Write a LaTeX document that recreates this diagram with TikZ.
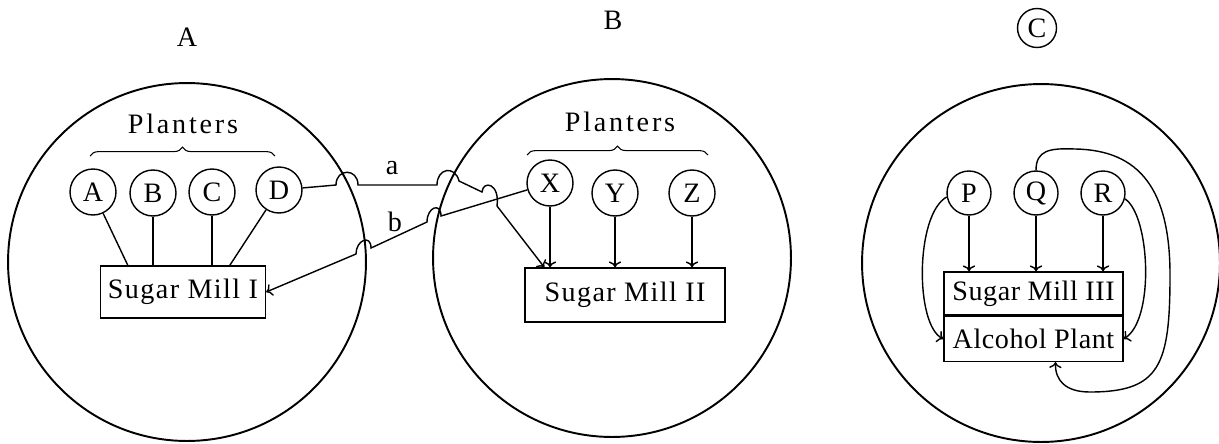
\documentclass[tikz,border=0pt]{standalone}
\usepackage{fontspec}
\setmainfont{Liberation Serif}
\usetikzlibrary{arrows.meta, positioning, decorations.pathreplacing, calc}

\begin{document}
\begin{tikzpicture}[x=0.02cm, y=-0.02cm, line width=0.8pt, font=\fontsize{16}{18}\selectfont]
  \tikzstyle{region}=[draw, circle, line width=1.1pt, minimum size=7.16cm, inner sep=0pt]
  \tikzstyle{planter}=[draw, circle, minimum size=0.92cm, inner sep=0pt]
  \tikzstyle{mill}=[draw, inner sep=2pt, font=\fontsize{16}{18}\selectfont\addfontfeatures{LetterSpace=5}]
  \tikzstyle{spaced}=[font=\fontsize{16}{18}\selectfont\addfontfeatures{LetterSpace=10}]
  \tikzstyle{brace}=[decorate, decoration={brace, amplitude=5pt}, line width=0.6pt]

  \useasboundingbox (0,0) rectangle (1219,443);

  % region A
  \node[region] (reg_a) at (187,262) {};
  \node (title_a) at (187,37) {A};
  \node[spaced] (plant_a) at (183,124) {Planters};
  \draw[brace] (90,156) -- (275,156);
  \node[planter] (p_a) at (93,192) {A};
  \node[planter] (p_b) at (153,193) {B};
  \node[planter] (p_c) at (212,192) {C};
  \node[planter] (p_d) at (279,190) {D};
  \node[mill, minimum width=3.3cm, minimum height=1.04cm] (mill1) at (183,292) {Sugar Mill I};

  % region B
  \node[region] (reg_b) at (612,258) {};
  \node (title_b) at (613,20) {B};
  \node[spaced] (plant_b) at (620,122) {Planters};
  \draw[brace] (527,155) -- (708,155);
  \node[planter] (p_x) at (550,183) {X};
  \node[planter] (p_y) at (615,193) {Y};
  \node[planter] (p_z) at (692,193) {Z};
  \node[mill, minimum width=4cm, minimum height=1.08cm] (mill2) at (625,295) {Sugar Mill II};

  % region C
  \node[region] (reg_c) at (1041,263) {};
  \node[draw, circle, minimum size=0.78cm, inner sep=0pt] (title_c) at (1037,28) {C};
  \node[planter, minimum size=0.88cm] (p_p) at (969,193) {P};
  \node[planter, minimum size=0.88cm] (p_q) at (1036,193) {Q};
  \node[planter, minimum size=0.88cm] (p_r) at (1103,193) {R};
  \node[mill, font=\fontsize{16}{18}\selectfont\addfontfeatures{LetterSpace=2}, minimum width=3.58cm, minimum height=0.86cm] (mill3) at (1033.5,293.5) {Sugar Mill III};
  \node[mill, font=\fontsize{16}{18}\selectfont\addfontfeatures{LetterSpace=2}, minimum width=3.58cm, minimum height=0.9cm, below=0pt of mill3] (alc) {Alcohol Plant};

  % planters to mill I
  \draw (p_a) -- ($(mill1.north west)+(28,0)$);
  \draw (p_b) -- (p_b |- mill1.north);
  \draw (p_c) -- (p_c |- mill1.north);
  \draw (p_d) -- ($(mill1.north west)+(130,0)$);

  % planters to mill II
  \draw[->] (p_x) -- (p_x |- mill2.north);
  \draw[->] (p_y) -- (p_y |- mill2.north);
  \draw[->] (p_z) -- (p_z |- mill2.north);

  % a and b across the borders
  \draw[->] (p_d) -- (336,185) .. controls (336,168) and (358,168) .. (358,185)
    -- (437,185) .. controls (437,168) and (455,165) .. (459,181)
    -- (482,192) .. controls (483,180) and (500,183) .. (497,206)
    -- ($(mill2.north west)+(20,0)$);
  \draw[->] (p_x) -- (441,216) .. controls (441,202) and (427,207) .. (427,222)
    -- (371,248) .. controls (371,234) and (356,240) .. (356,254)
    -- (mill1.east);
  \node (lbl_a) at (392,168) {a};
  \node (lbl_b) at (395,222) {b};

  % planters to mill III and alcohol plant
  \draw[->] (p_p) -- (p_p |- mill3.north);
  \draw[->] (p_q) -- (p_q |- mill3.north);
  \draw[->] (p_r) -- (p_r |- mill3.north);
  \draw[->] (p_p.190) .. controls (915,215) and (915,325) .. (alc.west);
  \draw[->] (p_r.-15) .. controls (1150,215) and (1155,320) .. (alc.east);
  \draw[->] (p_q.north) .. controls (1036,150) and (1050,148) .. (1075,149)
    .. controls (1140,150) and (1170,190) .. (1170,275)
    .. controls (1170,365) and (1160,392) .. (1090,392)
    .. controls (1065,392) and (1055,380) .. ($(alc.south)+(22,0)$);

\end{tikzpicture}
\end{document}
